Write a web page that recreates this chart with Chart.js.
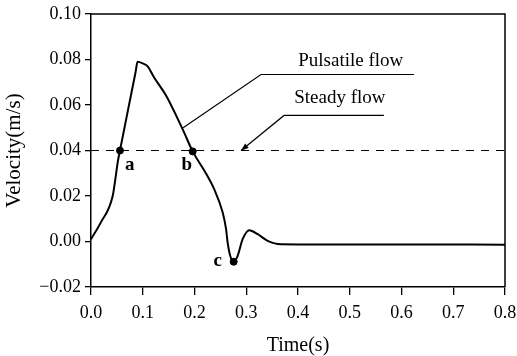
<!DOCTYPE html>
<html>
<head>
<meta charset="utf-8">
<script src="https://cdn.jsdelivr.net/npm/chart.js@4/dist/chart.umd.min.js"></script>
<style>
html,body{margin:0;padding:0;background:#fff;}
canvas{display:block;}
</style>
</head>
<body>
<canvas id="c" width="517" height="356"></canvas>
<script>
// ---- data ----
const timeS = [0.000, 0.019, 0.042, 0.048, 0.0515, 0.056, 0.073, 0.086, 0.090, 0.100, 0.1095, 0.122, 0.145, 0.177, 0.1965, 0.222, 0.238, 0.2545, 0.261, 0.264, 0.269, 0.2757, 0.2834, 0.293, 0.306, 0.322, 0.3414, 0.367, 0.45, 0.60, 0.80];
const velocity = [0.0010, 0.0084, 0.0201, 0.0290, 0.0347, 0.0400, 0.0595, 0.0743, 0.0790, 0.0783, 0.0770, 0.0721, 0.0642, 0.0494, 0.0396, 0.0300, 0.0230, 0.0127, 0.0054, -0.0004, -0.0063, -0.0089, -0.0063, 0.0010, 0.0050, 0.0032, 0.0003, -0.0012, -0.0013, -0.0013, -0.0014];
const steadyTime = [0.0, 0.8];
const steadyVelocity = [0.04, 0.04];
const markerNames = ['a', 'b', 'c'];
const markerTime = [0.056, 0.1965, 0.2757];
const markerVelocity = [0.040, 0.0396, -0.0089];
const xTicks = [0.0, 0.1, 0.2, 0.3, 0.4, 0.5, 0.6, 0.7, 0.8];
const yTicks = [-0.02, 0.00, 0.02, 0.04, 0.06, 0.08, 0.10];

// annotation anchors (data units)
const notes = {
  pulsatile: {text: 'Pulsatile flow', at: [0.502, 0.0795], leader: [[0.178, 0.050], [0.3285, 0.0734], [0.624, 0.0734]]},
  steady: {text: 'Steady flow', at: [0.481, 0.0630], leader: [[0.290, 0.040], [0.373, 0.0554], [0.566, 0.0554]]},
  letters: [[0.075, 0.0335], [0.185, 0.0335], [0.245, -0.0088]]
};

const SERIF = '"Liberation Serif", "DejaVu Serif", serif';

const pts = (xs, ys) => xs.map((x, i) => ({x, y: ys[i]}));

const annot = {
  id: 'annot',
  afterDraw(chart) {
    const {ctx, chartArea: a, scales: {x, y}} = chart;
    const P = p => [x.getPixelForValue(p[0]), y.getPixelForValue(p[1])];
    ctx.save();
    // frame top & right
    ctx.strokeStyle = '#000';
    ctx.lineWidth = 1.5;
    ctx.beginPath();
    ctx.moveTo(a.left, a.top); ctx.lineTo(a.right, a.top); ctx.lineTo(a.right, a.bottom);
    ctx.stroke();
    // leaders
    ctx.lineWidth = 1.2;
    for (const key of ['pulsatile', 'steady']) {
      const n = notes[key];
      ctx.beginPath();
      n.leader.forEach((p, i) => { const [px, py] = P(p); i ? ctx.lineTo(px, py) : ctx.moveTo(px, py); });
      ctx.stroke();
      ctx.fillStyle = '#000';
      ctx.font = '19px ' + SERIF;
      ctx.textAlign = 'center'; ctx.textBaseline = 'middle';
      const [tx, ty] = P(n.at);
      ctx.fillText(n.text, tx, ty);
    }
    // arrow head for steady leader
    const [ax, ay] = P(notes.steady.leader[0]);
    const [bx, by] = P(notes.steady.leader[1]);
    const ang = Math.atan2(ay - by, ax - bx);
    ctx.beginPath();
    ctx.moveTo(ax, ay);
    ctx.lineTo(ax - 8 * Math.cos(ang - 0.35), ay - 8 * Math.sin(ang - 0.35));
    ctx.lineTo(ax - 8 * Math.cos(ang + 0.35), ay - 8 * Math.sin(ang + 0.35));
    ctx.closePath();
    ctx.fill();
    // letters
    ctx.font = 'bold 19px ' + SERIF;
    notes.letters.forEach((p, i) => { const [px, py] = P(p); ctx.fillText(markerNames[i], px, py); });
    ctx.restore();
  }
};

new Chart(document.getElementById('c'), {
  type: 'line',
  data: {
    datasets: [
      {data: pts(timeS, velocity), borderColor: '#000', borderWidth: 2, pointRadius: 0, cubicInterpolationMode: 'monotone', fill: false},
      {data: pts(steadyTime, steadyVelocity), borderColor: '#000', borderWidth: 1.2, borderDash: [8, 7], pointRadius: 0, fill: false},
      {type: 'scatter', data: pts(markerTime, markerVelocity), pointRadius: 3.5, pointBackgroundColor: '#000', pointBorderColor: '#000', showLine: false}
    ]
  },
  options: {
    responsive: false,
    animation: false,
    events: [],
    layout: {padding: {left: 0, top: 14, right: 12, bottom: 0}},
    plugins: {legend: {display: false}, tooltip: {enabled: false}},
    scales: {
      x: {
        type: 'linear', min: 0, max: 0.8,
        afterBuildTicks: s => { s.ticks = xTicks.map(v => ({value: v})); },
        afterFit: s => { s.height = 69; s.paddingLeft = 0; s.paddingRight = 0; },
        ticks: {color: '#000', font: {family: SERIF, size: 18}, padding: 7, maxRotation: 0, autoSkip: false,
                callback: v => Number(v).toFixed(1)},
        grid: {display: true, drawOnChartArea: false, drawTicks: true, tickLength: 8, color: '#000', lineWidth: 1.3},
        border: {display: true, color: '#000', width: 1.5},
        title: {display: true, text: 'Time(s)', color: '#000', font: {family: SERIF, size: 20, lineHeight: 1}, padding: 0}
      },
      y: {
        type: 'linear', min: -0.02, max: 0.10,
        afterBuildTicks: s => { s.ticks = yTicks.map(v => ({value: v})); },
        afterFit: s => { s.width = 91; s.paddingTop = 0; s.paddingBottom = 0; },
        ticks: {color: '#000', font: {family: SERIF, size: 18}, padding: 4,
                callback: v => { const t = Math.abs(v).toFixed(2); return v < -1e-9 ? '\u2212' + t : t; }},
        grid: {display: true, drawOnChartArea: false, drawTicks: true, tickLength: 6, color: '#000', lineWidth: 1.3},
        border: {display: true, color: '#000', width: 1.5},
        title: {display: true, text: 'Velocity(m/s)', color: '#000', font: {family: SERIF, size: 21, lineHeight: 1.2}, padding: 2}
      }
    }
  },
  plugins: [annot]
});
</script>
</body>
</html>
